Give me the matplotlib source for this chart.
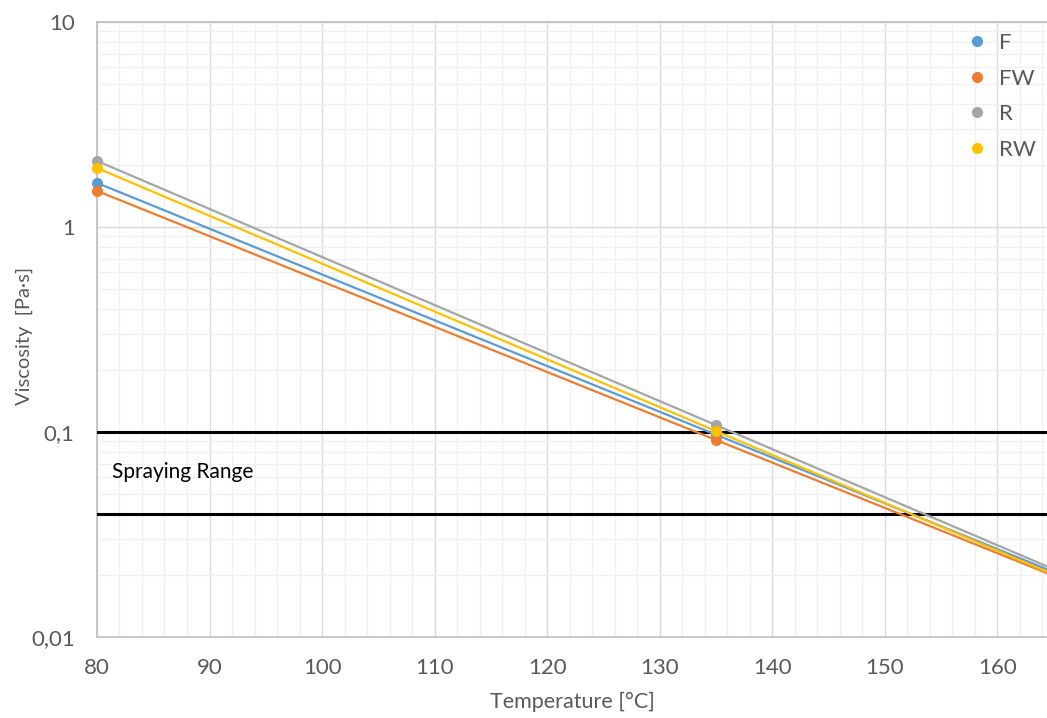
import numpy as np
import matplotlib.pyplot as plt
from matplotlib.ticker import FixedLocator, MultipleLocator, LogLocator, NullFormatter

plt.rcParams['font.family'] = ['Lato', 'DejaVu Sans']

temps = [80, 135]
series = ["F", "FW", "R", "RW"]
visc_F = [1.64, 0.097]
visc_FW = [1.50, 0.0914]
visc_R = [2.10, 0.108]
visc_RW = [1.94, 0.101]
colors = ["#5b9bd5", "#ed7d31", "#a5a5a5", "#ffc000"]
spray_low, spray_high = 0.04, 0.1
ytick_vals = [0.01, 0.1, 1, 10]
ytick_labels = ["0,01", "0,1", "1", "10"]

fig = plt.figure(figsize=(10.47, 7.18), dpi=100)
ax = fig.add_axes([0.0926, 0.1128, 0.9074, 0.8566])

x_fit = np.linspace(80, 164.4, 200)
for name, vals, c in zip(series, [visc_F, visc_FW, visc_R, visc_RW], colors):
    k, b = np.polyfit(temps, np.log(vals), 1)
    ax.plot(x_fit, np.exp(k * x_fit + b), color=c, lw=1.6, zorder=4)
    ax.plot(temps, vals, 'o', color=c, ms=7, label=name, zorder=5, clip_on=False)

ax.axhline(spray_high, color='black', lw=2.2, zorder=3)
ax.axhline(spray_low, color='black', lw=2.2, zorder=3)
ax.text(81.3, 0.064, "Spraying Range", fontsize=15, color='black', va='center')

ax.set_yscale('log')
ax.set_ylim(0.01, 10)
ax.set_xlim(80, 164.4)
ax.yaxis.set_major_locator(FixedLocator(ytick_vals))
ax.set_yticklabels(ytick_labels)
ax.yaxis.set_minor_locator(LogLocator(base=10, subs=np.arange(2, 10)))
ax.yaxis.set_minor_formatter(NullFormatter())
ax.xaxis.set_major_locator(MultipleLocator(10))
ax.xaxis.set_minor_locator(MultipleLocator(2))

ax.grid(which='major', color='#d9d9d9', lw=1.0, zorder=0)
ax.grid(which='minor', color='#f0f0f0', lw=1.0, zorder=0)
ax.set_axisbelow(True)
ax.tick_params(which='both', length=0, labelsize=16, labelcolor='#595959')
ax.tick_params(axis='y', pad=16)
ax.tick_params(axis='x', pad=15)

for s in ['left', 'bottom', 'top']:
    ax.spines[s].set_color('#bfbfbf')
    ax.spines[s].set_linewidth(1.2)
ax.spines['right'].set_visible(False)

ax.set_xlabel("Temperature [°C]", fontsize=15.5, color='#595959', labelpad=10)
ax.set_ylabel("Viscosity  [Pa·s]", fontsize=14.5, color='#595959')
ax.yaxis.set_label_coords(-0.067, 0.49)

ax.legend(loc='upper right', frameon=False, fontsize=16, handletextpad=0.0,
          labelspacing=0.7, markerscale=1.0, labelcolor='#595959',
          bbox_to_anchor=(1.0, 1.0), borderaxespad=0.1)

fig.savefig('out.png', dpi=100)
